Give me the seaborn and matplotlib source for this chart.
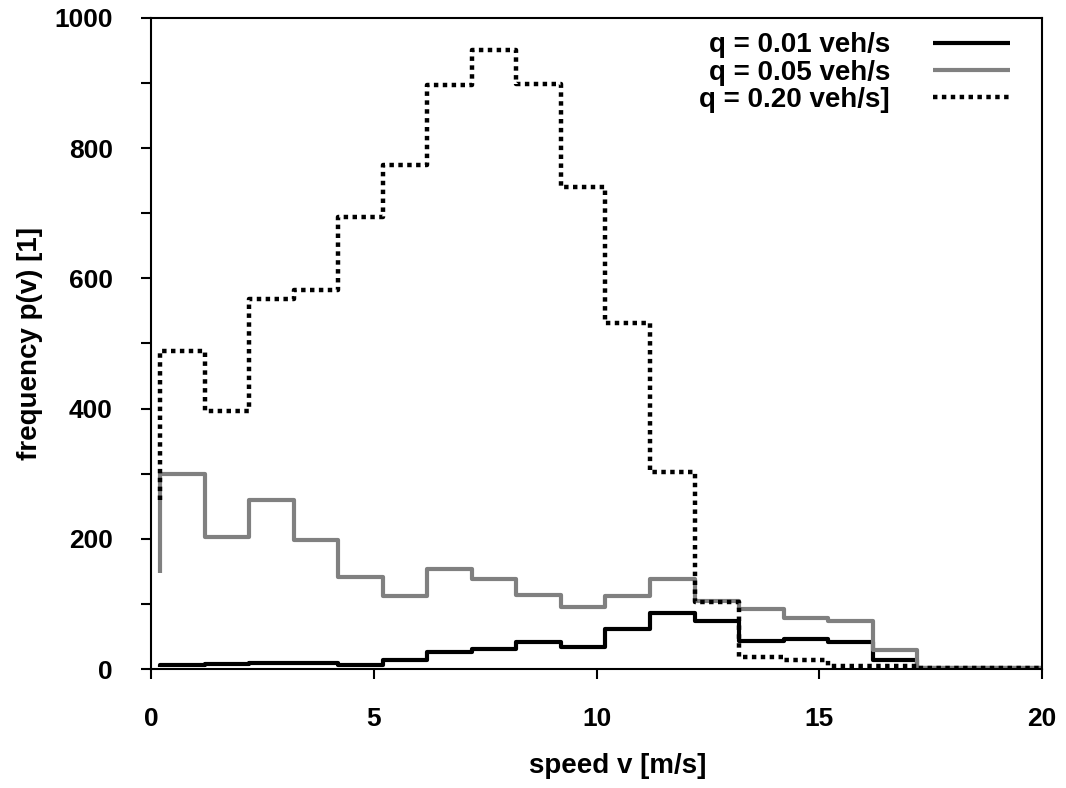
import matplotlib
matplotlib.use("Agg")
import matplotlib.pyplot as plt
import seaborn as sns
import pandas as pd
from matplotlib.ticker import MultipleLocator

# ---- data ----
bin_left = [0.2, 1.2, 2.2, 3.2, 4.2, 5.2, 6.2, 7.2, 8.2, 9.2,
            10.2, 11.2, 12.2, 13.2, 14.2, 15.2, 16.2, 17.2, 18.2, 19.2]
x_end = 20.0

labels = ["q = 0.01 veh/s", "q = 0.05 veh/s", "q = 0.20 veh/s]"]
start_q001 = 3
start_q005 = 148
start_q020 = 260
q001 = [6, 7, 9, 9, 6, 14, 26, 31, 42, 34, 61, 86, 73, 43, 46, 42, 14, 2, 2, 2]
q005 = [300, 203, 259, 198, 141, 112, 154, 138, 114, 95, 112, 138, 105, 92, 78, 74, 29, 1, 1, 1]
q020 = [488, 396, 569, 582, 694, 774, 897, 951, 898, 740, 532, 302, 103, 19, 14, 5, 5, 1, 1, 1]

sns.set_style("ticks")
plt.rcParams["font.family"] = ["Liberation Sans", "DejaVu Sans"]
plt.rcParams["font.weight"] = "bold"
plt.rcParams["axes.labelweight"] = "bold"
plt.rcParams["text.color"] = "black"
plt.rcParams["axes.labelcolor"] = "black"
plt.rcParams["xtick.color"] = "black"
plt.rcParams["ytick.color"] = "black"

fig = plt.figure(figsize=(10.66, 7.88), dpi=100)
ax = fig.add_axes([0.1417, 0.151, 0.8358, 0.8262])

series = [
    (labels[0], start_q001, q001, dict(color="black", linewidth=3.0, linestyle="-")),
    (labels[1], start_q005, q005, dict(color="#808080", linewidth=3.0, linestyle="-")),
    (labels[2], start_q020, q020, dict(color="black", linewidth=3.2, linestyle=(0, (1, 1)))),
]

for lab, s0, vals, style in series:
    xs = [bin_left[0]] + bin_left + [x_end]
    ys = [s0] + vals + [vals[-1]]
    df = pd.DataFrame({"v": xs, "p": ys})
    sns.lineplot(data=df, x="v", y="p", ax=ax, estimator=None, sort=False,
                 drawstyle="steps-post", label=lab, solid_capstyle="butt",
                 dash_capstyle="butt", **style)

ax.set_xlim(0, 20)
ax.set_ylim(0, 1000)
ax.set_xticks([0, 5, 10, 15, 20])
ax.set_yticks([0, 200, 400, 600, 800, 1000])
ax.yaxis.set_minor_locator(MultipleLocator(100))

for sp in ax.spines.values():
    sp.set_visible(True)
    sp.set_linewidth(1.5)
    sp.set_color("black")

ax.tick_params(axis="both", which="both", direction="out", length=7.5, width=1.5,
               color="black", labelcolor="black", labelsize=19, pad=20)
for t in ax.get_xticklabels() + ax.get_yticklabels():
    t.set_fontweight("bold")

ax.set_xlabel("speed v [m/s]", fontsize=20, fontweight="bold", labelpad=16, color="black")
ax.xaxis.label.set_x(0.524)
ax.set_ylabel("frequency p(v) [1]", fontsize=20, fontweight="bold", labelpad=8, color="black")

leg = ax.legend(loc="upper right", frameon=False, markerfirst=False,
                prop={"size": 20, "weight": "bold"}, handlelength=2.75,
                handletextpad=1.55, labelspacing=0.05, borderaxespad=0.0,
                bbox_to_anchor=(0.976, 0.995))
for txt in leg.get_texts():
    txt.set_color("black")

fig.savefig("out.png", dpi=100)
